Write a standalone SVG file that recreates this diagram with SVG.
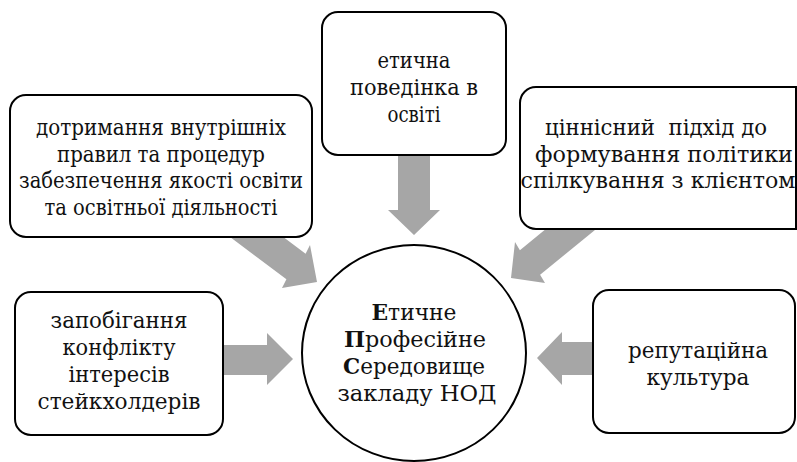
<svg xmlns="http://www.w3.org/2000/svg" width="797" height="462" viewBox="0 0 797 462">
<style>
.box{fill:#fff;stroke:#000;stroke-width:2}
.arr{fill:#a6a6a6;stroke:none}
.t{font-family:'DejaVu Serif Condensed','DejaVu Serif','Liberation Serif',serif;font-stretch:condensed;font-size:21.5px;fill:#111;text-anchor:middle}
</style>
<rect width="797" height="462" fill="#fff"/>
<g id="connectors">
<polygon class="arr" points="398,150 430,150 430,210 440,210 414,235 388,210 398,210"/>
<polygon class="arr" points="241.6,205.7 305.6,253.7 310,245 317,282 282,288 286.4,279.3 222.4,231.3"/>
<polygon class="arr" points="581.5,199.8 519.9,250.2 515,242 511,278 545,283 540.1,274.8 601.7,224.4"/>
<polygon class="arr" points="215,345 267,345 267,333 293,359 267,385 267,375 215,375"/>
<polygon class="arr" points="600,342 562,342 562,332 537,358 562,385 562,375 600,375"/>
</g>
<g id="node-top-left">
<rect class="box" x="10" y="95" width="302" height="142" rx="16"/>
<text class="t" x="161" y="135" textLength="250" lengthAdjust="spacingAndGlyphs">дотримання внутрішніх</text>
<text class="t" x="161" y="162" textLength="208" lengthAdjust="spacingAndGlyphs">правил та процедур</text>
<text class="t" x="161" y="188" textLength="284" lengthAdjust="spacingAndGlyphs">забезпечення якості освіти</text>
<text class="t" x="161" y="215" textLength="233" lengthAdjust="spacingAndGlyphs">та освітньої діяльності</text>
</g>
<g id="node-top">
<rect class="box" x="322" y="12" width="184" height="143" rx="16"/>
<text class="t" x="414" y="68" textLength="73" lengthAdjust="spacingAndGlyphs">етична</text>
<text class="t" x="414" y="95" textLength="128" lengthAdjust="spacingAndGlyphs">поведінка в</text>
<text class="t" x="414" y="122" textLength="53" lengthAdjust="spacingAndGlyphs">освіті</text>
</g>
<g id="node-top-right">
<path class="box" d="M536,87 H796 V229 H536 A16,16 0 0 1 520,213 V103 A16,16 0 0 1 536,87 Z"/>
<text class="t" x="656" y="135" textLength="222" lengthAdjust="spacingAndGlyphs" xml:space="preserve">ціннісний  підхід до</text>
<text class="t" x="664" y="162" textLength="258" lengthAdjust="spacingAndGlyphs">формування політики</text>
<text class="t" x="658" y="188" textLength="275" lengthAdjust="spacingAndGlyphs">спілкування з клієнтом</text>
</g>
<g id="node-left">
<rect class="box" x="15" y="292" width="208" height="143" rx="16"/>
<text class="t" x="119" y="328" textLength="137" lengthAdjust="spacingAndGlyphs">запобігання</text>
<text class="t" x="119" y="355" textLength="113" lengthAdjust="spacingAndGlyphs">конфлікту</text>
<text class="t" x="119" y="382" textLength="101" lengthAdjust="spacingAndGlyphs">інтересів</text>
<text class="t" x="119" y="409" textLength="163" lengthAdjust="spacingAndGlyphs">стейкхолдерів</text>
</g>
<g id="node-right">
<rect class="box" x="593" y="290" width="202" height="143" rx="16"/>
<text class="t" x="698" y="358" textLength="140" lengthAdjust="spacingAndGlyphs">репутаційна</text>
<text class="t" x="698" y="385" textLength="103" lengthAdjust="spacingAndGlyphs">культура</text>
</g>
<g id="node-center">
<ellipse cx="414" cy="353" rx="112" ry="108" fill="#fff" stroke="#000" stroke-width="2"/>
<text class="t" x="414" y="320" textLength="85" lengthAdjust="spacingAndGlyphs"><tspan font-weight="bold">Е</tspan>тичне</text>
<text class="t" x="415" y="347" textLength="142" lengthAdjust="spacingAndGlyphs"><tspan font-weight="bold">П</tspan>рофесійне</text>
<text class="t" x="414" y="374" textLength="142" lengthAdjust="spacingAndGlyphs"><tspan font-weight="bold">С</tspan>ередовище</text>
<text class="t" x="417" y="401" textLength="159" lengthAdjust="spacingAndGlyphs">закладу НОД</text>
</g>
</svg>
